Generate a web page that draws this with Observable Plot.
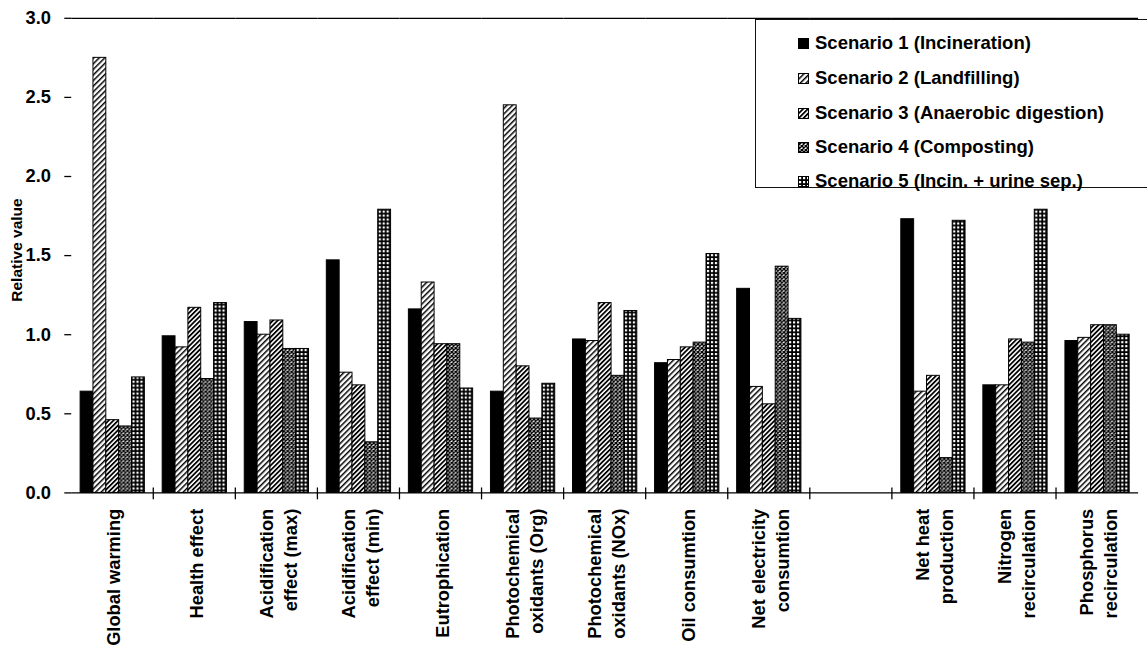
<!DOCTYPE html>
<html><head><meta charset="utf-8">
<script src="https://cdn.jsdelivr.net/npm/d3@7"></script>
<script src="https://cdn.jsdelivr.net/npm/@observablehq/plot@0.6"></script>
<style>
html,body{margin:0;padding:0;background:#fff;overflow:hidden;}
#wrap{position:relative;width:1147px;height:657px;overflow:hidden;font-family:"Liberation Sans",Arial,sans-serif;color:#000;}
#chart{position:absolute;left:0;top:0;}
#chart svg text{font-weight:bold;}
#ylabel{position:absolute;left:17px;top:250px;transform:translate(-50%,-50%) rotate(-90deg);font-weight:bold;font-size:15.5px;white-space:nowrap;}
#legend{position:absolute;left:755px;top:19px;width:400px;height:169px;border:1.3px solid #111;box-sizing:border-box;background:#fff;}
.row{position:absolute;left:42px;display:flex;align-items:center;font-weight:bold;font-size:18.5px;height:24px;white-space:nowrap;}
.row svg{margin-right:6px;}
</style></head>
<body>
<div id="wrap">
<svg width="0" height="0" style="position:absolute">
  <defs>
    <pattern id="pat2" patternUnits="userSpaceOnUse" width="4" height="4" patternTransform="rotate(45)">
      <rect width="4" height="4" fill="#fff"/><rect width="1.5" height="4" fill="#000"/>
    </pattern>
    <pattern id="pat3" patternUnits="userSpaceOnUse" width="3.4" height="3.4" patternTransform="rotate(45)">
      <rect width="3.4" height="3.4" fill="#fff"/><rect width="1.8" height="3.4" fill="#000"/>
    </pattern>
    <pattern id="pat4" patternUnits="userSpaceOnUse" width="4" height="4">
      <rect width="4" height="4" fill="#fff"/><path d="M0,0L4,4M4,0L0,4" stroke="#000" stroke-width="1.4"/>
    </pattern>
    <pattern id="pat5" patternUnits="userSpaceOnUse" width="4" height="4">
      <rect width="4" height="4" fill="#000"/><rect x="1" y="1" width="2.2" height="2.2" fill="#fff"/>
    </pattern>
  </defs>
</svg>
<div id="chart"></div>
<div id="ylabel">Relative value</div>
<div id="legend"></div>
</div>
<script>
// ---- data ----
const categories = [
  "Global warming",
  "Health effect",
  "Acidification\neffect (max)",
  "Acidification\neffect (min)",
  "Eutrophication",
  "Photochemical\noxidants (Org)",
  "Photochemical\noxidants (NOx)",
  "Oil consumtion",
  "Net electricity\nconsumtion",
  "",
  "Net heat\nproduction",
  "Nitrogen\nrecirculation",
  "Phosphorus\nrecirculation"
];
const seriesNames = [
  "Scenario 1 (Incineration)",
  "Scenario 2 (Landfilling)",
  "Scenario 3 (Anaerobic digestion)",
  "Scenario 4 (Composting)",
  "Scenario 5 (Incin. + urine sep.)"
];
const scenario1 = [0.64, 0.99, 1.08, 1.47, 1.16, 0.64, 0.97, 0.82, 1.29, null, 1.73, 0.68, 0.96];
const scenario2 = [2.75, 0.92, 1.00, 0.76, 1.33, 2.45, 0.96, 0.84, 0.67, null, 0.64, 0.68, 0.98];
const scenario3 = [0.46, 1.17, 1.09, 0.68, 0.94, 0.80, 1.20, 0.92, 0.56, null, 0.74, 0.97, 1.06];
const scenario4 = [0.42, 0.72, 0.91, 0.32, 0.94, 0.47, 0.74, 0.95, 1.43, null, 0.22, 0.95, 1.06];
const scenario5 = [0.73, 1.20, 0.91, 1.79, 0.66, 0.69, 1.15, 1.51, 1.10, null, 1.72, 1.79, 1.00];
const seriesValues = [scenario1, scenario2, scenario3, scenario4, scenario5];
const yTicks = [0, 0.5, 1.0, 1.5, 2.0, 2.5, 3.0];

// ---- styling ----
const patternFills = ["#000", "url(#pat2)", "url(#pat3)", "url(#pat4)", "url(#pat5)"];

const rows = [];
categories.forEach((c, i) => {
  seriesValues.forEach((vals, j) => {
    rows.push({cat: c, series: seriesNames[j], value: vals[i]});
  });
});

const chart = Plot.plot({
  width: 1160,
  height: 657,
  marginLeft: 67,
  marginRight: 4,
  marginTop: 18,
  marginBottom: 159,
  style: {fontFamily: '"Liberation Sans", Arial, sans-serif', fontSize: "18.5px", fontWeight: "bold", color: "#000", background: "transparent", overflow: "visible"},
  fx: {domain: categories, padding: 0, label: null},
  x: {domain: seriesNames, paddingInner: 0, paddingOuter: 0.6, axis: null},
  y: {domain: [0, 3], label: null},
  color: {domain: seriesNames, range: patternFills},
  marks: [
    Plot.ruleY([3], {stroke: "#000", strokeWidth: 1.3}),
    Plot.barY(rows, {fx: "cat", x: "series", y: "value", fill: "series", stroke: "#000", strokeWidth: 1}),
    Plot.ruleY([0], {stroke: "#000", strokeWidth: 1.3}),
    Plot.axisY({ticks: yTicks, tickFormat: d3.format(".1f"), tickSize: 7, tickPadding: 14, line: true, label: null, fontWeight: "bold", fontSize: 18.5, strokeWidth: 1.3}),
    Plot.axisFx({anchor: "bottom", tickSize: 0, tickPadding: 16, tickRotate: -90, textAnchor: "end", lineAnchor: "middle", lineHeight: 1.32, fontWeight: "bold", fontSize: 18.5, label: null})
  ]
});
document.getElementById("chart").appendChild(chart);

// category boundary ticks on the baseline, positioned from the fx and y scales
const fx = chart.scale("fx");
const ys = chart.scale("y");
const y0 = ys.apply(0);
const g = d3.select(chart).append("g").attr("stroke", "#000").attr("stroke-width", 1.3);
categories.forEach((c, i) => {
  if (i === 0) return;
  const x = fx.apply(c);
  g.append("line").attr("x1", x).attr("x2", x).attr("y1", y0 - 5).attr("y2", y0 + 7);
});

// legend
const legend = document.getElementById("legend");
const rowCenters = [23, 58, 93, 127, 161];
seriesNames.forEach((name, j) => {
  const r = document.createElement("div");
  r.className = "row";
  r.style.top = (rowCenters[j] - 12) + "px";
  r.innerHTML = `<svg width="11" height="11"><rect x="0.5" y="0.5" width="10" height="10" fill="${patternFills[j]}" stroke="#000" stroke-width="1"/></svg><span>${name}</span>`;
  legend.appendChild(r);
});
</script>
</body></html>
